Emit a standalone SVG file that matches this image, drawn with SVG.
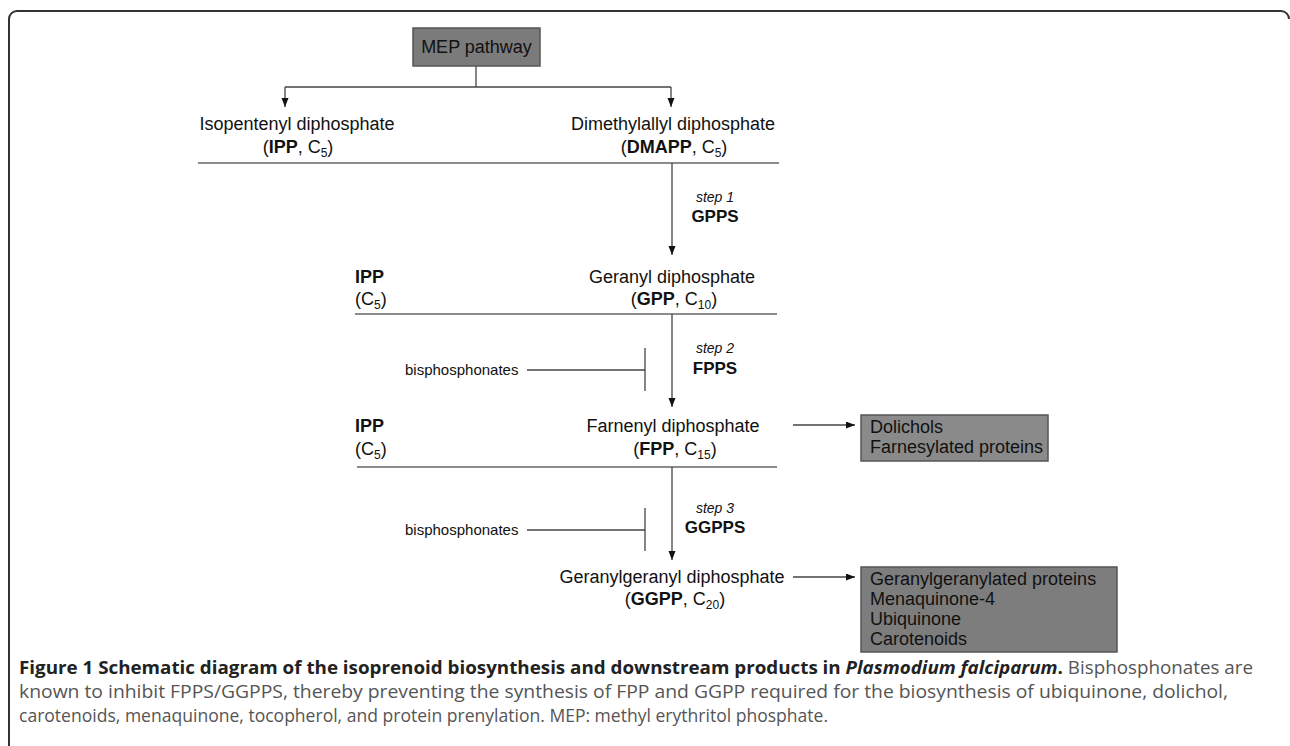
<svg xmlns="http://www.w3.org/2000/svg" width="1290" height="746" viewBox="0 0 1290 746">
<defs>
<marker id="arr" markerUnits="userSpaceOnUse" markerWidth="10" markerHeight="8" refX="9" refY="3.5" orient="auto">
<path d="M0,0 L9,3.5 L0,7 z" fill="#111"/>
</marker>
<style>
.t{font-family:"Liberation Sans",Arial,sans-serif;font-size:18px;fill:#111}
.c{text-anchor:middle}
.b{font-weight:bold}
.s{font-family:"Liberation Sans",Arial,sans-serif;font-size:14px;font-style:italic;fill:#111;text-anchor:middle}
.e{font-family:"Liberation Sans",Arial,sans-serif;font-size:17px;font-weight:bold;fill:#111;text-anchor:middle}
.bp{font-family:"Liberation Sans",Arial,sans-serif;font-size:15px;fill:#111}
.sub{font-size:12px}
.ln{stroke:#666;stroke-width:1.5;fill:none}
.cn{stroke:#444;stroke-width:1.3;fill:none}
.box{stroke:#555;stroke-width:1.5}
.cap{font-family:"Open Sans","DejaVu Sans",sans-serif;font-size:17.5px;fill:#555}
.capb{font-weight:bold;fill:#222}
</style>
</defs>
<rect width="1290" height="746" fill="#fff"/>
<path d="M9,746 V19 A8,8 0 0 1 17,11 H1281 A8,8 0 0 1 1289,19" fill="none" stroke="#333" stroke-width="2"/>

<g id="connectors">
<line class="cn" x1="476" y1="66" x2="476" y2="87"/>
<line class="cn" x1="285" y1="87" x2="671" y2="87"/>
<line class="cn" x1="285" y1="87" x2="285" y2="107" marker-end="url(#arr)"/>
<line class="cn" x1="671" y1="87" x2="671" y2="107" marker-end="url(#arr)"/>
<line class="ln" x1="198" y1="163" x2="779" y2="163"/>
<line class="ln" x1="355" y1="314" x2="777" y2="314"/>
<line class="ln" x1="357" y1="467" x2="777" y2="467"/>
<line class="cn" x1="672" y1="163" x2="672" y2="255" marker-end="url(#arr)"/>
<line class="cn" x1="672" y1="314" x2="672" y2="407" marker-end="url(#arr)"/>
<line class="cn" x1="672" y1="467" x2="672" y2="560" marker-end="url(#arr)"/>
<line class="cn" x1="527" y1="370" x2="645" y2="370"/>
<line class="cn" x1="645" y1="348" x2="645" y2="391"/>
<line class="cn" x1="527" y1="530" x2="645" y2="530"/>
<line class="cn" x1="645" y1="508" x2="645" y2="551"/>
<line class="cn" x1="793" y1="425" x2="855" y2="425" marker-end="url(#arr)"/>
<line class="cn" x1="793" y1="577" x2="855" y2="577" marker-end="url(#arr)"/>
</g>

<g id="mep">
<rect class="box" x="413" y="28" width="127" height="38" fill="#7b7b7b"/>
<text class="t c" x="476.5" y="53">MEP pathway</text>
</g>

<g id="ipp1">
<text class="t c" x="297" y="130">Isopentenyl diphosphate</text>
<text class="t c" x="298" y="153">(<tspan class="b">IPP</tspan>, C<tspan class="sub" dy="4">5</tspan><tspan dy="-4">)</tspan></text>
</g>

<g id="dmapp">
<text class="t c" x="673" y="130">Dimethylallyl diphosphate</text>
<text class="t c" x="674" y="153">(<tspan class="b">DMAPP</tspan>, C<tspan class="sub" dy="4">5</tspan><tspan dy="-4">)</tspan></text>
</g>

<g id="step1">
<text class="s" x="715" y="202">step 1</text>
<text class="e" x="715" y="222">GPPS</text>
</g>

<g id="ipp2">
<text class="t b" x="355" y="283">IPP</text>
<text class="t" x="355" y="305">(C<tspan class="sub" dy="4">5</tspan><tspan dy="-4">)</tspan></text>
</g>

<g id="gpp">
<text class="t c" x="672" y="283">Geranyl diphosphate</text>
<text class="t c" x="674" y="305">(<tspan class="b">GPP</tspan>, C<tspan class="sub" dy="4">10</tspan><tspan dy="-4">)</tspan></text>
</g>

<g id="inh1">
<text class="bp" x="405" y="375">bisphosphonates</text>
</g>

<g id="step2">
<text class="s" x="715" y="353">step 2</text>
<text class="e" x="715" y="374">FPPS</text>
</g>

<g id="ipp3">
<text class="t b" x="355" y="432">IPP</text>
<text class="t" x="355" y="455">(C<tspan class="sub" dy="4">5</tspan><tspan dy="-4">)</tspan></text>
</g>

<g id="fpp">
<text class="t c" x="673" y="432">Farnenyl diphosphate</text>
<text class="t c" x="675" y="455">(<tspan class="b">FPP</tspan>, C<tspan class="sub" dy="4">15</tspan><tspan dy="-4">)</tspan></text>
</g>

<g id="fppProducts">
<rect class="box" x="861" y="415" width="187" height="46" fill="#8a8a8a"/>
<text class="t" x="870" y="433">Dolichols</text>
<text class="t" x="870" y="453">Farnesylated proteins</text>
</g>

<g id="inh2">
<text class="bp" x="405" y="535">bisphosphonates</text>
</g>

<g id="step3">
<text class="s" x="715" y="513">step 3</text>
<text class="e" x="715" y="533">GGPPS</text>
</g>

<g id="ggpp">
<text class="t c" x="672" y="583">Geranylgeranyl diphosphate</text>
<text class="t c" x="675" y="605">(<tspan class="b">GGPP</tspan>, C<tspan class="sub" dy="4">20</tspan><tspan dy="-4">)</tspan></text>
</g>

<g id="ggppProducts">
<rect class="box" x="861" y="567" width="256" height="85" fill="#7d7d7d"/>
<text class="t" x="870" y="585">Geranylgeranylated proteins</text>
<text class="t" x="870" y="605">Menaquinone-4</text>
<text class="t" x="870" y="625">Ubiquinone</text>
<text class="t" x="870" y="645">Carotenoids</text>
</g>

<g id="caption">
<text class="cap" x="19" y="674" textLength="1234" lengthAdjust="spacingAndGlyphs"><tspan class="capb">Figure 1 Schematic diagram of the isoprenoid biosynthesis and downstream products in <tspan font-style="italic">Plasmodium falciparum</tspan>.</tspan> Bisphosphonates are</text>
<text class="cap" x="19" y="698" textLength="1209" lengthAdjust="spacingAndGlyphs">known to inhibit FPPS/GGPPS, thereby preventing the synthesis of FPP and GGPP required for the biosynthesis of ubiquinone, dolichol,</text>
<text class="cap" x="19" y="722" textLength="809" lengthAdjust="spacingAndGlyphs">carotenoids, menaquinone, tocopherol, and protein prenylation. MEP: methyl erythritol phosphate.</text>
</g>
</svg>
